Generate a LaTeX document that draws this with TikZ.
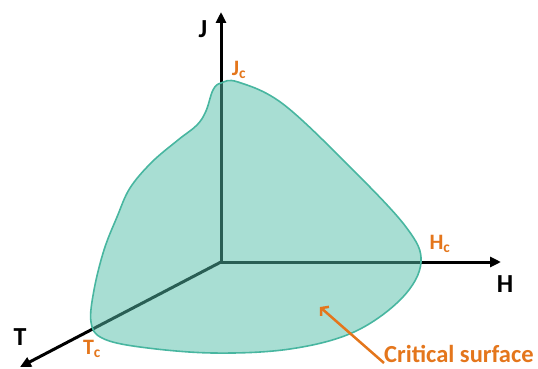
\documentclass[tikz,border=0pt]{standalone}
\usepackage{fontspec}
\setmainfont{Carlito}
\usetikzlibrary{arrows.meta}
\definecolor{surfteal}{RGB}{82,189,168}
\definecolor{surfedge}{RGB}{72,182,160}
\definecolor{critorange}{RGB}{228,118,28}

\begin{document}
\begin{tikzpicture}[x=1pt, y=-1pt,
    axis/.style={line width=3pt, black, -{Triangle[length=11pt,width=10pt]}},
    surf/.style={draw=surfedge, line width=1.6pt, fill=surfteal, fill opacity=0.5},
    lbl/.style={font=\fontsize{26}{28}\selectfont\bfseries, inner sep=0pt},
    clbl/.style={font=\fontsize{22}{24}\selectfont\bfseries, text=critorange, inner sep=0pt},
    carr/.style={-{Straight Barb[length=5pt,width=12pt]}, line width=2.5pt, critorange}
]
    \useasboundingbox (0,0) rectangle (538,369);
    \coordinate (O) at (221,262);
    \coordinate (Jtip) at (221,12);
    \coordinate (Htip) at (501,262);
    \coordinate (Ttip) at (20,367);
    % axes
    \draw[axis] (O) -- (Jtip);
    \draw[axis] (O) -- (Htip);
    \draw[axis] (O) -- (Ttip);
    % critical surface
    \draw[surf] plot[smooth cycle, tension=0.6] coordinates {
        (221,83) (238,82) (283,104) (350,167) (406,227) (421,262)
        (402,298) (354,332) (290,349) (213,353) (140,347) (102,338)
        (91,322) (94,290) (104,250) (117,217) (130,188) (152,162)
        (178,140) (197,125) (206,111) (213,90)};
    \coordinate (cs) at (320,307);
    % labels
    \node[lbl] (J) at (203,29) {J};
    \node[lbl] (H) at (505,284) {H};
    \node[lbl] (T) at (20,337) {T};
    \node[clbl] (Jc) at (239,70) {J\textsubscript{c}};
    \node[clbl] (Hc) at (440,244) {H\textsubscript{c}};
    \node[clbl] (Tc) at (92,349) {T\textsubscript{c}};
    \node[clbl, font=\fontsize{24.5}{26}\selectfont\bfseries, anchor=south west] (crit) at (384,363) {Critical surface};
    \draw[carr] (crit.south west) -- (cs);
\end{tikzpicture}
\end{document}
